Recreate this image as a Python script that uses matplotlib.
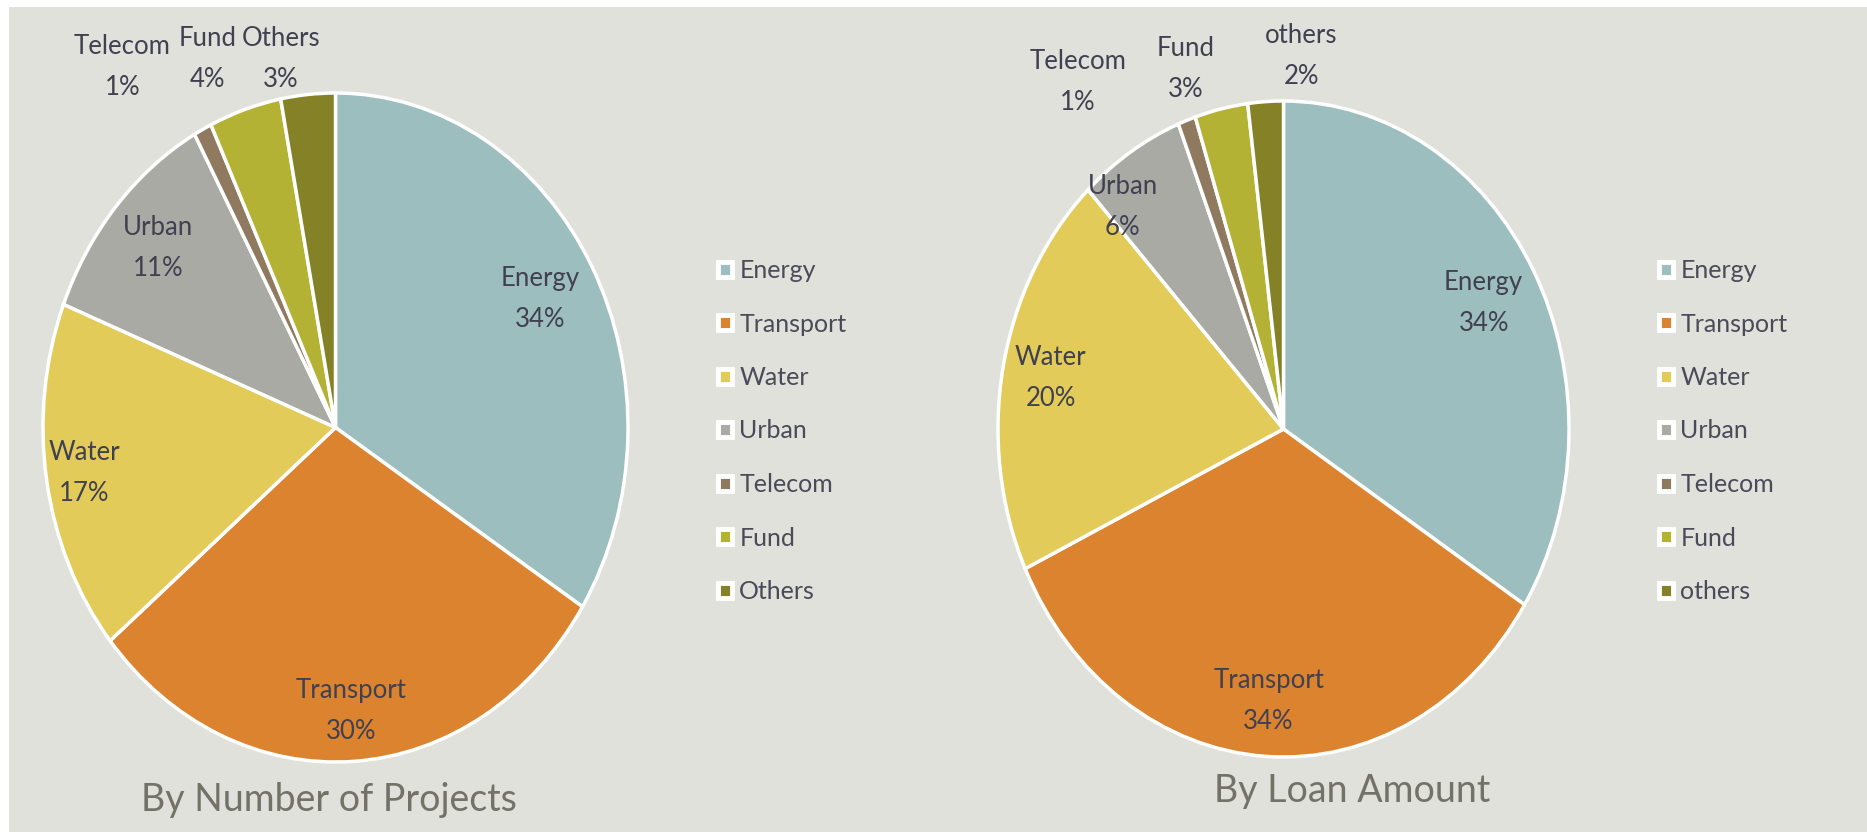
import numpy as np
import matplotlib
matplotlib.use('Agg')
import matplotlib.pyplot as plt
from matplotlib.patches import Patch, Rectangle

plt.rcParams['font.family'] = ['Lato', 'DejaVu Sans']

# 数据
sectors_left = ['Energy', 'Transport', 'Water', 'Urban', 'Telecom', 'Fund', 'Others']
share_projects = [34, 30, 17, 11, 1, 4, 3]

sectors_right = ['Energy', 'Transport', 'Water', 'Urban', 'Telecom', 'Fund', 'others']
share_loans = [34, 34, 20, 6, 1, 3, 2]

colors = ['#9DBEBE', '#DC8330', '#E2CB58', '#AAAAA4', '#8F7A5F', '#B4B234', '#858126']

W, H = 1867, 832
BG = '#E0E1DB'
TXT = '#404050'

fig = plt.figure(figsize=(W / 100, H / 100), dpi=100, facecolor='white')
fig.patches.append(Rectangle((9 / W, 0), 1, 1 - 7 / H, transform=fig.transFigure,
                             facecolor=BG, edgecolor='none', zorder=-10))


def px_axes(cx, cy, rx, ry):
    # 像素坐标 -> figure 坐标
    return fig.add_axes([(cx - rx) / W, 1 - (cy + ry) / H, 2 * rx / W, 2 * ry / H])


def draw_pie(ax, names, vals, rad, dth):
    ax.pie(vals, colors=colors, startangle=90, counterclock=False,
           wedgeprops=dict(edgecolor='white', linewidth=2.5))
    ax.set_aspect('auto')
    ax.set_xlim(-1, 1)
    ax.set_ylim(-1, 1)
    ax.axis('off')
    total = float(sum(vals))
    cum = np.cumsum([0] + list(vals))
    for i, (n, v) in enumerate(zip(names, vals)):
        mid = 90 - 360 * (cum[i] + v / 2) / total + dth[i]
        t = np.deg2rad(mid)
        ax.text(rad[i] * np.cos(t), rad[i] * np.sin(t), f'{n}\n{v}%',
                ha='center', va='center', fontsize=18.5, color=TXT,
                linespacing=1.8, clip_on=False)


# 左图
ax1 = px_axes(335.5, 427.5, 292.5, 334.5)
draw_pie(ax1, sectors_left, share_projects,
         rad=[0.80, 0.85, 0.87, 0.81, 1.30, 1.185, 1.117],
         dth=[0, 0, 0, 0, 7.1, 3.6, 4.2])

# 右图
ax2 = px_axes(1283.5, 429, 285.5, 328)
draw_pie(ax2, sectors_right, share_loans,
         rad=[0.80, 0.83, 0.83, 0.88, 1.28, 1.15, 1.14],
         dth=[0, 0, 0, 7.4, 14.5, 4.7, -6.7])

# 图例
for names, x0 in [(sectors_left, 718), (sectors_right, 1659)]:
    handles = [Patch(facecolor=c, edgecolor='white', linewidth=3.5, label=n)
               for c, n in zip(colors, names)]
    fig.legend(handles=handles, loc='upper left',
               bbox_to_anchor=(x0 / W, 1 - 259 / H), frameon=False,
               fontsize=18, labelcolor='#4A4A58', handlelength=0.55,
               handleheight=0.55, handletextpad=0.3, labelspacing=1.22,
               borderpad=0, borderaxespad=0)

# 标题
fig.text(329 / W, 1 - 800 / H, 'By Number of Projects', ha='center', va='center',
         fontsize=27, color='#727268')
fig.text(1352 / W, 1 - 791 / H, 'By Loan Amount', ha='center', va='center',
         fontsize=27, color='#727268')

fig.savefig('out.png', dpi=100, facecolor=fig.get_facecolor())
